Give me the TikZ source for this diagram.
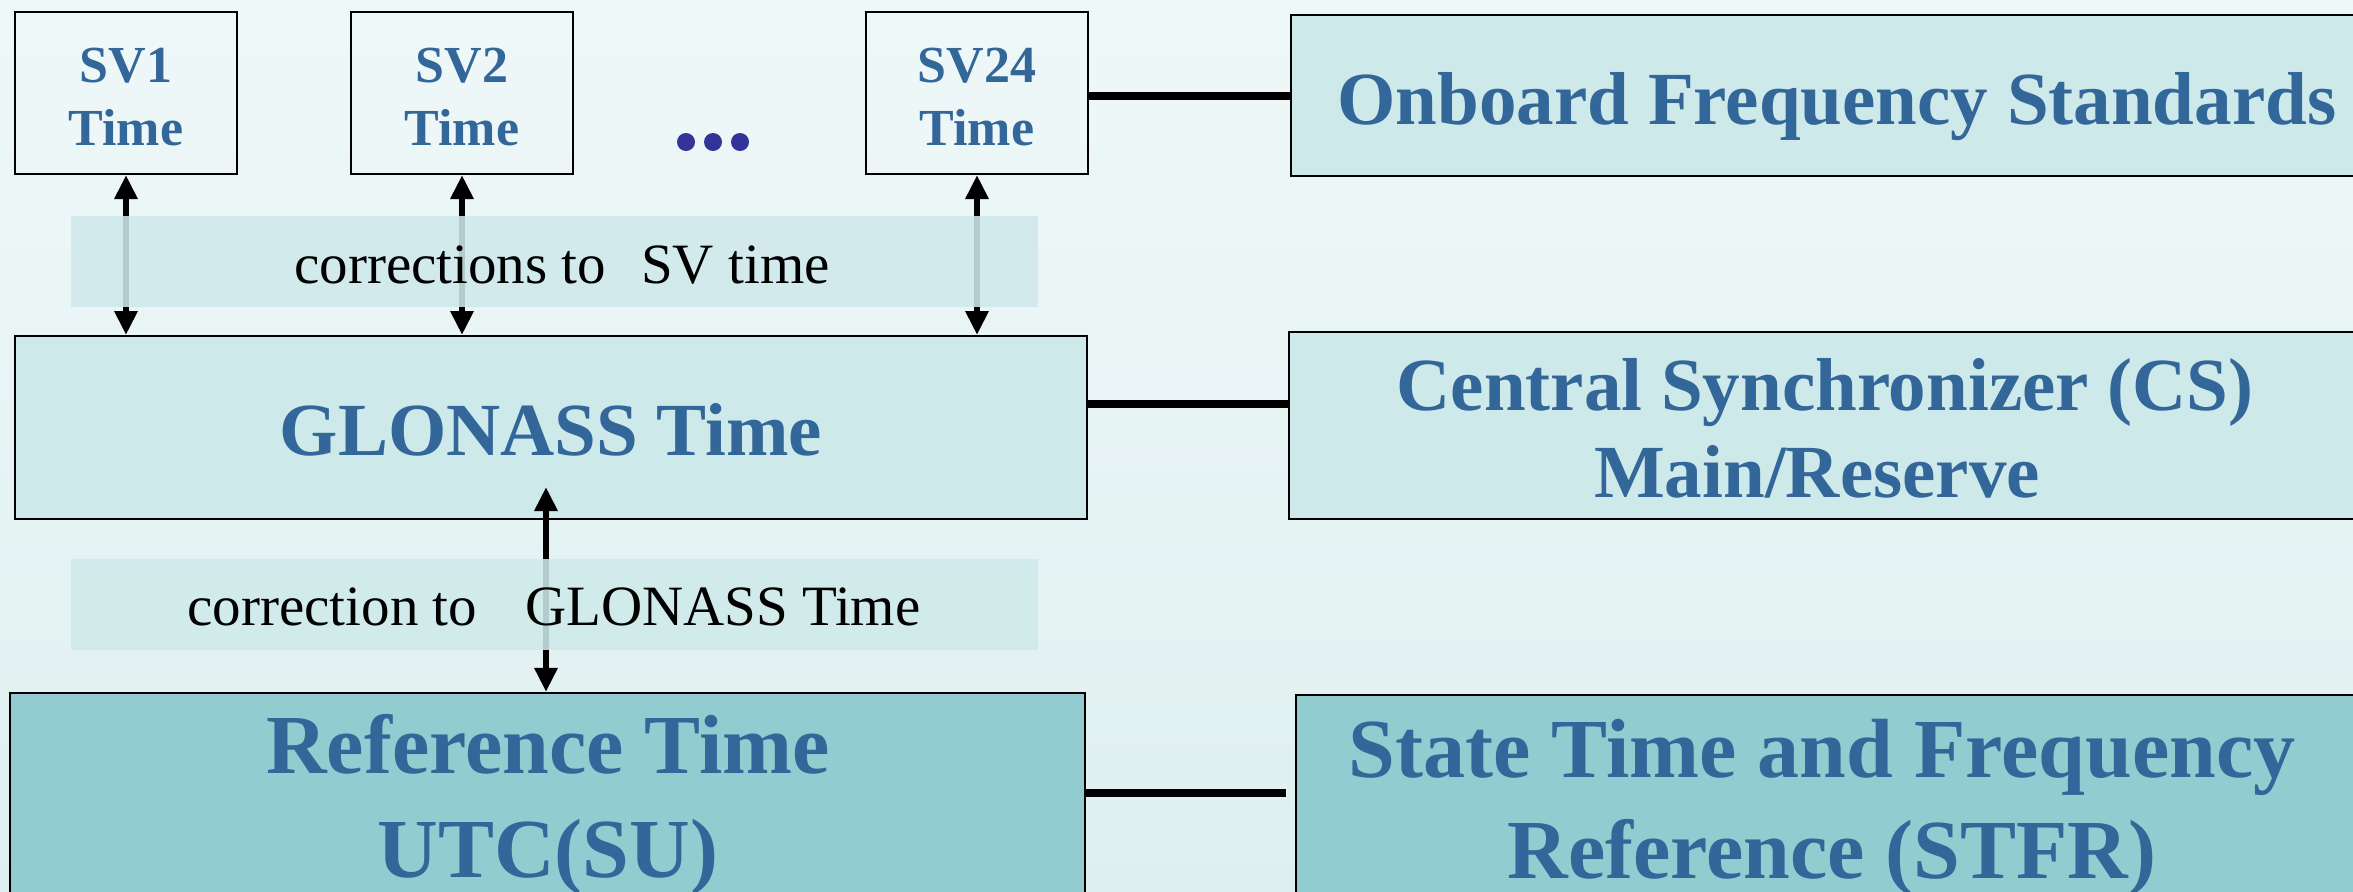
\documentclass[tikz,border=0pt]{standalone}
\usepackage{fontspec}
\setmainfont{Liberation Serif}
\usetikzlibrary{arrows.meta,calc}
\definecolor{bgtop}{HTML}{EFF8F9}
\definecolor{bgbot}{HTML}{DFEFEF}
\definecolor{lightbox}{HTML}{CDE9EA}
\definecolor{darkbox}{HTML}{92CBD0}
\definecolor{bandcol}{HTML}{CFE9EA}
\definecolor{txtblue}{HTML}{336699}
\definecolor{dotcol}{HTML}{333399}
\tikzset{
  svbox/.style={draw=black,line width=1pt,minimum width=111pt,minimum height=81pt,inner sep=0pt},
  lbox/.style={draw=black,line width=1pt,fill=lightbox,inner sep=0pt},
  dbox/.style={draw=black,line width=1.1pt,fill=darkbox,inner sep=0pt},
  band/.style={fill=bandcol,opacity=0.88,inner sep=0pt,minimum width=483.5pt,minimum height=45.5pt},
  svtxt/.style={text=txtblue,font=\fontsize{26pt}{31pt}\selectfont\bfseries,anchor=base,inner sep=0pt},
  bigtxt/.style={text=txtblue,font=\fontsize{37.5pt}{44pt}\selectfont\bfseries,anchor=base,inner sep=0pt},
  hugetxt/.style={text=txtblue,font=\fontsize{42pt}{50pt}\selectfont\bfseries,anchor=base,inner sep=0pt},
  bandtxt/.style={text=black,font=\fontsize{28.5pt}{34pt}\selectfont,anchor=base,inner sep=0pt},
  biarrow/.style={line width=3.2pt,{Triangle[length=12pt,width=11pt]}-{Triangle[length=12pt,width=11pt]}},
  link/.style={line width=4pt},
  dotstyle/.style={circle,fill=dotcol,inner sep=0pt,minimum size=9pt}
}
\begin{document}
\begin{tikzpicture}[x=0.5pt,y=-0.5pt]
\clip (0,0) rectangle (2353,891);
\shade[top color=bgtop,bottom color=bgbot] (0,0) rectangle (2353,891);

% satellite boxes
\node[svbox] (sv1) at (126,93) {};
\node[svbox] (sv2) at (462,93) {};
\node[svbox] (sv24) at (977,93) {};
\node[svtxt] (sv1a) at (126,82) {SV1};
\node[svtxt] (sv1b) at (126,145) {Time};
\node[svtxt] (sv2a) at (462,82) {SV2};
\node[svtxt] (sv2b) at (462,145) {Time};
\node[svtxt] (sv24a) at (977,82) {SV24};
\node[svtxt] (sv24b) at (977,145) {Time};
\node[dotstyle] (d1) at (686,142) {};
\node[dotstyle] (d2) at (713,142) {};
\node[dotstyle] (d3) at (740,142) {};

% right column
\node[lbox,minimum width=546pt,minimum height=80.5pt] (onb) at (1837,95.5) {};
\node[bigtxt] (onbt) at (1837,124) {Onboard Frequency Standards};
\node[lbox,minimum width=540pt,minimum height=93.5pt] (cs) at (1829,425.5) {};
\node[bigtxt] (cst1) at (1825,410) {Central Synchronizer (CS)};
\node[bigtxt] (cst2) at (1817,497.5) {Main/Reserve};
\node[dbox,minimum width=540pt,minimum height=150pt] (stfr) at (1836,845) {};
\node[hugetxt] (stfrt1) at (1822,777) {State Time and Frequency};
\node[hugetxt] (stfrt2) at (1832,878) {Reference (STFR)};

% GLONASS time
\node[lbox,minimum width=536pt,minimum height=91.5pt] (glo) at (551,427.5) {};
\node[bigtxt] (glot) at (551,455.5) {GLONASS Time};
\coordinate (gin) at (546,487);

% reference time
\node[dbox,minimum width=537.5pt,minimum height=150pt] (ref) at (547.5,843) {};
\node[hugetxt] (reft1) at (548,773) {Reference Time};
\node[hugetxt] (reft2) at (548,877) {UTC(SU)};

% arrows
\draw[biarrow] (sv1.south) -- (sv1.south |- glo.north);
\draw[biarrow] (sv2.south) -- (sv2.south |- glo.north);
\draw[biarrow] (sv24.south) -- (sv24.south |- glo.north);
\draw[biarrow] (gin) -- (gin |- ref.north);

% bands
\node[band] (b1) at (554.5,261.5) {};
\node[bandtxt] (b1t) at (562,283) {corrections to\hspace{17.5pt}SV time};
\node[band] (b2) at (554.5,604.5) {};
\node[bandtxt] (b2t) at (554,625) {correction to\hspace{24pt}GLONASS Time};

% links
\draw[link] (sv24.east |- 0,96) -- (onb.west |- 0,96);
\draw[link] (glo.east |- 0,404) -- (cs.west |- 0,404);
\draw[link] (ref.east |- 0,793) -- ($(stfr.west |- 0,793)+(-9,0)$);
\end{tikzpicture}
\end{document}
